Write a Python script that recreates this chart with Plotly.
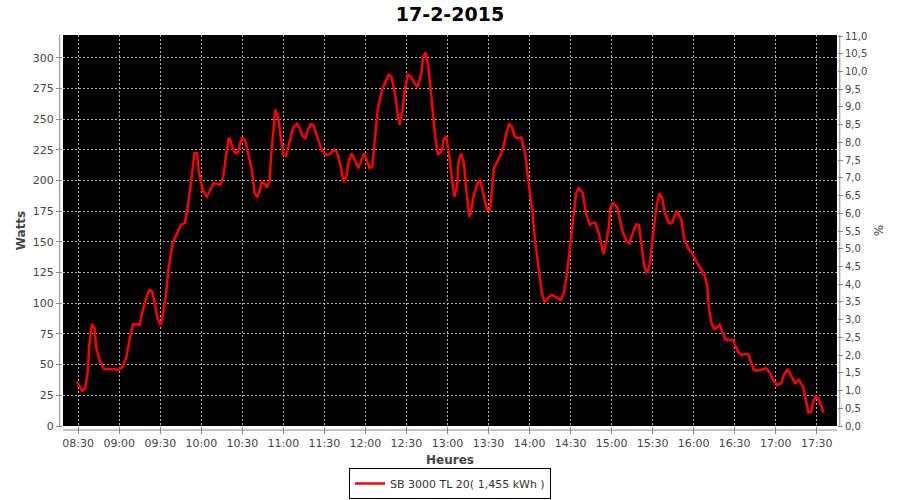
import plotly.graph_objects as go

date = "2015-02-17"
title_text = "17-2-2015"
series_name = "SB 3000 TL 20( 1,455 kWh )"

times = ["08:29","08:33","08:35","08:37","08:38","08:40","08:42","08:43","08:46","08:49",
         "08:56","08:59","09:02","09:05","09:08","09:10","09:13","09:15","09:17","09:20",
         "09:22","09:24","09:26","09:28","09:30","09:31","09:34","09:36","09:39","09:42",
         "09:45","09:48","09:50","09:53","09:55","09:57","09:58","10:01","10:04","10:06",
         "10:09","10:11","10:14","10:16","10:18","10:20","10:21","10:23","10:25","10:27",
         "10:28","10:30","10:32","10:34","10:37","10:39","10:41","10:43","10:44","10:46",
         "10:48","10:50","10:51","10:53","10:54","10:56","10:58","11:00","11:02","11:05",
         "11:07","11:10","11:12","11:14","11:16","11:18","11:20","11:22","11:24","11:26",
         "11:28","11:31","11:34","11:37","11:39","11:42","11:44","11:46","11:48","11:50",
         "11:52","11:55","11:57","11:59","12:01","12:03","12:05","12:07","12:09","12:12",
         "12:14","12:17","12:19","12:22","12:24","12:25","12:27","12:29","12:31","12:33",
         "12:36","12:38","12:41","12:42","12:44","12:46","12:48","12:50","12:51","12:53",
         "12:56","12:57","12:59","13:01","13:03","13:05","13:07","13:08","13:10","13:12",
         "13:14","13:16","13:17","13:19","13:22","13:24","13:25","13:27","13:29","13:31",
         "13:32","13:34","13:37","13:39","13:41","13:43","13:45","13:47","13:49","13:51",
         "13:54","13:57","13:59","14:02","14:04","14:07","14:09","14:11","14:14","14:16",
         "14:20","14:23","14:25","14:27","14:30","14:32","14:34","14:36","14:39","14:41",
         "14:44","14:46","14:48","14:51","14:54","14:56","14:58","14:59","15:01","15:04",
         "15:06","15:08","15:11","15:13","15:15","15:18","15:20","15:22","15:24","15:26",
         "15:28","15:30","15:33","15:35","15:37","15:39","15:42","15:44","15:46","15:48",
         "15:51","15:53","15:56","15:59","16:02","16:05","16:08","16:10","16:11","16:13",
         "16:15","16:17","16:19","16:21","16:23","16:25","16:29","16:30","16:33","16:35",
         "16:38","16:40","16:42","16:44","16:47","16:50","16:53","16:56","16:58","17:01",
         "17:04","17:06","17:09","17:11","17:14","17:16","17:17","17:20","17:22","17:24",
         "17:26","17:27","17:29","17:31","17:33","17:35"]

watts = [36.1,28.5,30.7,44.0,64.6,82.9,79.6,64.6,52.4,46.5,
         46.5,45.6,47.8,55.2,72.8,82.9,82.9,82.3,93.2,105.4,
         110.8,109.5,100.0,87.8,82.3,85.0,105.4,127.1,148.9,157.0,
         163.8,165.2,177.4,203.2,222.2,222.2,208.6,192.3,186.9,191.0,
         197.8,197.2,196.4,203.2,219.5,234.5,233.6,226.3,222.2,222.8,
         229.0,234.5,233.1,223.6,208.6,189.6,186.9,192.3,199.1,197.2,
         194.2,200.5,219.5,243.9,257.5,252.6,235.8,220.9,220.0,233.1,
         242.6,246.1,242.6,236.3,234.5,241.2,245.9,244.8,237.2,231.7,
         224.9,220.9,221.4,224.9,223.6,211.3,199.1,203.2,216.8,222.2,
         216.8,210.0,216.8,222.2,216.8,210.0,211.3,233.1,257.5,273.8,
         279.3,286.1,284.7,268.4,250.8,245.3,256.1,275.1,286.1,284.7,
         279.3,276.0,287.4,299.6,304.2,292.8,271.1,246.7,235.8,220.9,
         224.4,233.1,236.3,222.2,203.2,186.9,195.1,214.1,222.2,214.1,
         189.6,170.6,172.8,186.9,197.8,200.5,195.1,184.2,176.0,176.0,
         189.6,210.0,216.8,220.9,227.7,238.6,245.9,243.9,236.3,234.5,
         235.0,220.9,200.5,176.0,151.6,127.1,108.1,100.8,104.1,106.8,
         104.6,102.7,108.1,121.7,148.9,172.0,189.6,193.7,189.6,174.6,
         163.8,165.2,165.7,155.7,140.2,148.9,162.4,177.4,181.5,178.7,
         169.3,158.4,150.8,148.9,155.7,164.4,163.8,148.9,129.8,124.4,
         132.6,153.0,180.1,189.6,185.5,173.3,165.2,165.2,171.1,175.2,
         167.9,153.0,144.8,140.7,133.9,128.5,123.0,113.5,97.2,83.7,
         79.1,80.1,82.3,76.9,70.7,70.1,70.1,66.0,59.7,57.9,
         58.7,58.4,52.4,45.6,45.1,46.2,47.0,42.9,37.5,33.4,
         34.8,41.6,46.5,41.6,34.8,36.9,37.5,32.0,21.2,10.8,
         11.7,18.5,23.9,22.5,17.1,10.8]

x_range = ["08:18:53", "17:44:48"]
y_left_range = [0, 318.5]
y_right_range = [0, 11.03]

xs = [f"{date} {t}" for t in times]

GRID = "#b4b4b4"
AXIS = "#888888"
TICKF = dict(family="DejaVu Sans", size=11, color="#444444")

fig = go.Figure()
fig.add_trace(go.Scatter(
    x=xs, y=watts, mode="lines", name=series_name,
    line=dict(color="#ff0000", width=2.5),
))
# empty trace so that the right-hand (%) axis is drawn
fig.add_trace(go.Scatter(x=[], y=[], yaxis="y2", showlegend=False, hoverinfo="skip"))

fig.update_layout(
    width=900, height=500,
    paper_bgcolor="white", plot_bgcolor="black",
    margin=dict(l=63, r=63, t=35, b=74, autoexpand=False),
    separators=", ",
    font=dict(family="DejaVu Sans", size=11, color="#444444"),
    title=dict(text=f"<b>{title_text}</b>", x=0.5, xanchor="center",
               y=1 - 14 / 500, yanchor="middle", yref="container",
               font=dict(family="DejaVu Sans", size=19, color="black")),
    showlegend=True,
    legend=dict(orientation="v", x=0.5, xanchor="center",
                y=-0.1867, yanchor="bottom",
                bgcolor="white", bordercolor="black", borderwidth=1,
                font=dict(family="DejaVu Sans", size=11, color="#333333")),
    xaxis=dict(
        type="date", range=[f"{date} {x_range[0]}", f"{date} {x_range[1]}"],
        tick0=f"{date} 08:30", dtick=30 * 60 * 1000, tickformat="%H:%M",
        showgrid=True, gridcolor=GRID, griddash="2px,2px", gridwidth=1,
        ticks="outside", ticklen=7, tickcolor=AXIS, tickfont=TICKF,
        zeroline=False, showline=False, automargin=False,
        title=dict(text="<b>Heures</b>", standoff=6,
                   font=dict(family="DejaVu Sans", size=12, color="#444444")),
    ),
    yaxis=dict(
        range=y_left_range, dtick=25, tick0=0,
        showgrid=True, gridcolor=GRID, griddash="2px,2px", gridwidth=1,
        ticks="outside", ticklen=6, tickcolor=AXIS, tickfont=TICKF,
        zeroline=False, showline=False, automargin=False,
        title=dict(text="<b>Watts</b>", standoff=4,
                   font=dict(family="DejaVu Sans", size=12, color="#444444")),
    ),
    yaxis2=dict(
        overlaying="y", side="right", anchor="x",
        range=y_right_range, dtick=0.5, tick0=0, tickformat=".1f",
        showgrid=False, zeroline=False, showline=False, automargin=False,
        ticks="outside", ticklen=5, tickcolor=AXIS,
        tickfont=dict(family="DejaVu Sans", size=10, color="#444444"),
        title=dict(text="%", standoff=8,
                   font=dict(family="DejaVu Sans", size=12, color="#444444")),
    ),
)

# detached axis lines (offset from the plot area)
fig.add_shape(type="line", xref="paper", yref="paper", x0=-0.0043, x1=-0.0043, y0=0, y1=1,
              line=dict(color=AXIS, width=1))
fig.add_shape(type="line", xref="paper", yref="paper", x0=1.0036, x1=1.0036, y0=0, y1=1,
              line=dict(color=AXIS, width=1))
fig.add_shape(type="line", xref="paper", yref="paper", x0=0, x1=1, y0=-0.0102, y1=-0.0102,
              line=dict(color=AXIS, width=1))

fig.write_html("out.html", config={"displayModeBar": False},
               post_script="document.body.style.margin='0';")
